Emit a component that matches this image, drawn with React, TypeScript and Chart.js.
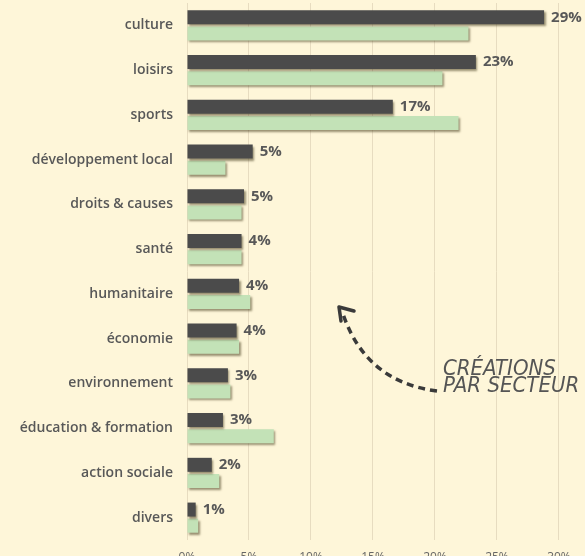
import React, { useEffect, useRef } from "react";
import { Chart, registerables } from "chart.js";

Chart.register(...registerables);

const categories = [
  "culture",
  "loisirs",
  "sports",
  "développement local",
  "droits & causes",
  "santé",
  "humanitaire",
  "économie",
  "environnement",
  "éducation & formation",
  "action sociale",
  "divers",
];

// dark bars (labelled)
const ensembleValues = [28.8, 23.3, 16.6, 5.3, 4.6, 4.4, 4.2, 4.0, 3.3, 2.9, 2.0, 0.7];
// light green bars
const creationsValues = [22.7, 20.6, 21.9, 3.1, 4.4, 4.4, 5.1, 4.2, 3.5, 7.0, 2.6, 0.9];

const xTickValues = [0, 5, 10, 15, 20, 25, 30];
const annotationLines = ["CRÉATIONS", "PAR SECTEUR"];

const BG = "#fef6d9";
const DARK = "#4b4b4b";
const GREEN = "#c3e2b7";
const TEXT = "#585858";
const FONT = "'Open Sans', 'DejaVu Sans', sans-serif";

const bgPlugin = {
  id: "bg",
  beforeDraw(chart: any) {
    const { ctx, width, height } = chart;
    ctx.save();
    ctx.fillStyle = BG;
    ctx.fillRect(0, 0, width, height);
    ctx.restore();
  },
};

const shadowPlugin = {
  id: "barShadow",
  beforeDatasetDraw(chart: any) {
    const ctx = chart.ctx;
    ctx.save();
    ctx.shadowColor = "rgba(70,60,30,0.55)";
    ctx.shadowOffsetX = 1.5;
    ctx.shadowOffsetY = 2;
    ctx.shadowBlur = 2;
  },
  afterDatasetDraw(chart: any) {
    chart.ctx.restore();
  },
};

const valueLabelPlugin = {
  id: "valueLabels",
  afterDatasetsDraw(chart: any) {
    const { ctx } = chart;
    const meta = chart.getDatasetMeta(0);
    ctx.save();
    ctx.font = `bold 15px ${FONT}`;
    ctx.fillStyle = TEXT;
    ctx.textAlign = "left";
    ctx.textBaseline = "middle";
    meta.data.forEach((bar: any, i: number) => {
      const v = ensembleValues[i];
      ctx.fillText(`${Math.round(v)}%`, bar.x + 7, bar.y);
    });
    ctx.restore();
  },
};

const annotationPlugin = {
  id: "annotation",
  afterDraw(chart: any) {
    const { ctx } = chart;
    ctx.save();
    // dashed curved arrow
    ctx.strokeStyle = "#3a3a3a";
    ctx.lineWidth = 3.5;
    ctx.setLineDash([7, 5]);
    ctx.beginPath();
    ctx.moveTo(437, 391);
    ctx.quadraticCurveTo(366, 382, 343, 314);
    ctx.stroke();
    ctx.setLineDash([]);
    ctx.lineWidth = 3.5;
    ctx.lineCap = "round";
    ctx.lineJoin = "round";
    ctx.beginPath();
    ctx.moveTo(354, 311);
    ctx.lineTo(339, 307);
    ctx.lineTo(341, 321);
    ctx.stroke();

    // text
    ctx.fillStyle = "#555555";
    ctx.font = `italic 22px 'Liberation Sans Narrow', 'DejaVu Sans Condensed', 'Liberation Sans', sans-serif`;
    ctx.textAlign = "left";
    ctx.textBaseline = "alphabetic";
    ctx.fillText(annotationLines[0], 443, 375, 119);
    ctx.fillText(annotationLines[1], 443, 392, 146);
    ctx.restore();
  },
};

export default function App() {
  const canvasRef = useRef<HTMLCanvasElement | null>(null);

  useEffect(() => {
    if (!canvasRef.current) return;
    const chart = new Chart(canvasRef.current, {
      type: "bar",
      data: {
        labels: categories,
        datasets: [
          {
            label: "Ensemble",
            data: ensembleValues,
            backgroundColor: DARK,
            categoryPercentage: 0.72,
            barPercentage: 0.87,
          },
          {
            label: "Créations",
            data: creationsValues,
            backgroundColor: GREEN,
            categoryPercentage: 0.72,
            barPercentage: 0.87,
          },
        ],
      },
      options: {
        indexAxis: "y",
        animation: false,
        responsive: true,
        maintainAspectRatio: false,
        layout: { padding: { top: 3, right: 0, bottom: 0, left: 0 } },
        plugins: {
          legend: { display: false },
          tooltip: { enabled: false },
        },
        scales: {
          x: {
            min: 0,
            max: 32.1,
            afterBuildTicks(scale: any) {
              scale.ticks = xTickValues.map((v) => ({ value: v }));
            },
            afterFit(scale: any) {
              scale.height = 25;
              scale.paddingLeft = 0;
              scale.paddingRight = 0;
            },
            ticks: {
              padding: 10,
              color: "#666",
              font: { family: FONT, size: 12 },
              callback: (v: any) => `${v}%`,
            },
            grid: {
              color: "#e7dcc0",
              lineWidth: 1,
              drawTicks: false,
            },
            border: { display: false },
          },
          y: {
            afterFit(scale: any) {
              scale.width = 187;
              scale.paddingTop = 0;
              scale.paddingBottom = 0;
            },
            ticks: {
              padding: 14,
              color: TEXT,
              font: { family: FONT, size: 14, weight: "600" },
            },
            grid: { display: false, drawTicks: false },
            border: { display: false },
          },
        },
      },
      plugins: [bgPlugin, shadowPlugin, valueLabelPlugin, annotationPlugin],
    });
    return () => chart.destroy();
  }, []);

  return (
    <div
      style={{
        position: "fixed",
        left: 0,
        top: 0,
        width: 585,
        height: 565,
        background: BG,
      }}
    >
      <canvas ref={canvasRef} />
    </div>
  );
}
